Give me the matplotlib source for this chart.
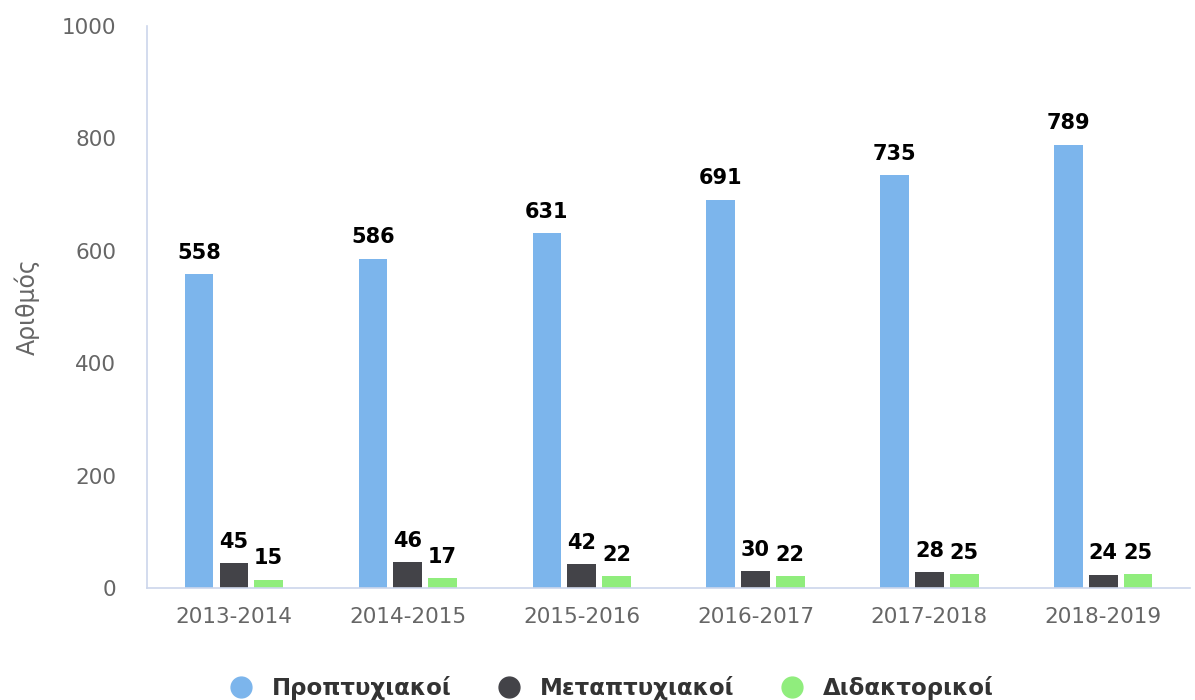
import matplotlib.pyplot as plt
import numpy as np

years = ['2013-2014', '2014-2015', '2015-2016', '2016-2017', '2017-2018', '2018-2019']
undergrad = [558, 586, 631, 691, 735, 789]
postgrad = [45, 46, 42, 30, 28, 24]
phd = [15, 17, 22, 22, 25, 25]
series_names = ['Προπτυχιακοί', 'Μεταπτυχιακοί', 'Διδακτορικοί']
colors = ['#7cb5ec', '#434348', '#90ed7d']

plt.rcParams['font.family'] = ['DejaVu Sans']

fig = plt.figure(figsize=(11.95, 7), dpi=100)
ax = fig.add_axes([0.123, 0.16, 0.873, 0.803])

x = np.arange(len(years))
width = 0.165
offsets = [-0.2, 0.0, 0.2]

for vals, name, col, off in zip([undergrad, postgrad, phd], series_names, colors, offsets):
    bars = ax.bar(x + off, vals, width, color=col, label=name)
    for b, v in zip(bars, vals):
        ax.annotate(str(v), (b.get_x() + b.get_width() / 2, v),
                    xytext=(0, 8), textcoords='offset points',
                    ha='center', va='bottom', fontsize=15, fontweight='bold', color='#000000')

ax.set_xlim(-0.5, len(years) - 0.5)
ax.set_ylim(0, 1000)
ax.set_yticks([0, 200, 400, 600, 800, 1000])
ax.set_xticks(x)
ax.set_xticklabels(years)
ax.tick_params(axis='both', length=0, labelsize=15.5, labelcolor='#666666')
ax.tick_params(axis='x', pad=14)
ax.tick_params(axis='y', pad=22)

for s in ['top', 'right']:
    ax.spines[s].set_visible(False)
for s in ['left', 'bottom']:
    ax.spines[s].set_color('#ccd6eb')
    ax.spines[s].set_linewidth(1.2)

ax.set_ylabel('Αριθμός', fontsize=17, color='#666666', labelpad=16)

handles = [plt.Line2D([], [], marker='o', linestyle='', markersize=15, color=c) for c in colors]
leg = fig.legend(handles, series_names, loc='lower center', bbox_to_anchor=(0.507, -0.03),
                 ncol=3, frameon=False, columnspacing=1.5, handletextpad=0.35,
                 prop={'size': 16.5, 'weight': 'bold'})
for t in leg.get_texts():
    t.set_color('#333333')

fig.savefig('out.png', dpi=100)
